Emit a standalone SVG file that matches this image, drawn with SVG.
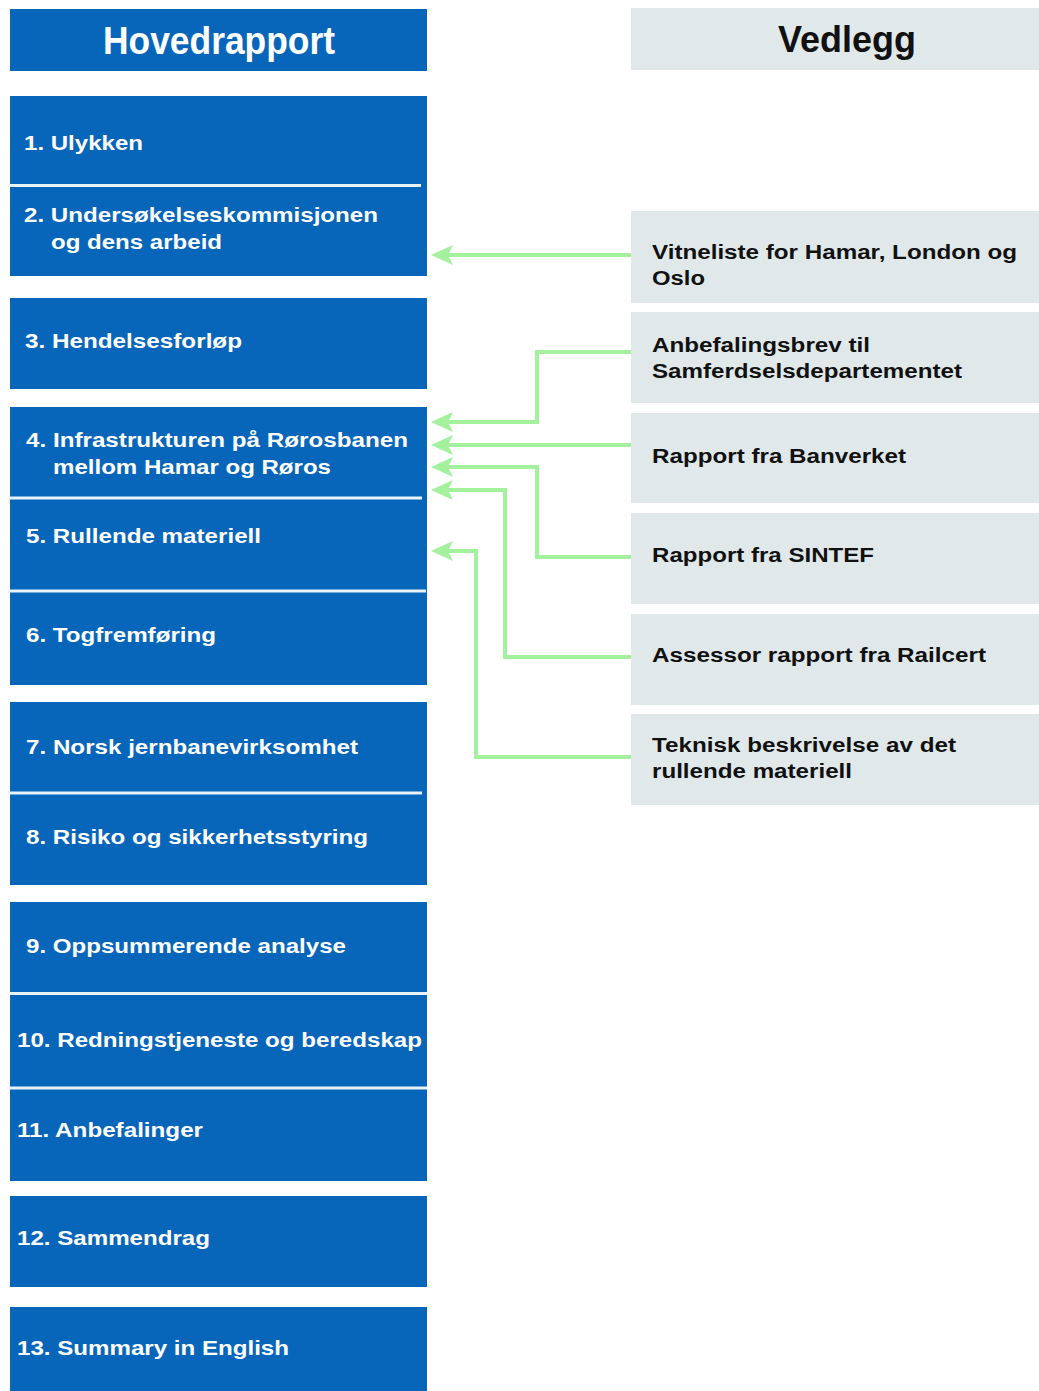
<svg xmlns="http://www.w3.org/2000/svg" width="1039" height="1391" viewBox="0 0 1039 1391">
<style>
.blue{fill:#0766ba}
.gray{fill:#e0e8ea}
.wt{fill:#ffffff;font-family:"Liberation Sans",Arial,sans-serif;font-weight:bold;font-size:20px}
.bt{fill:#111111;font-family:"Liberation Sans",Arial,sans-serif;font-weight:bold;font-size:20px}
.sep{stroke:#e8f3fb;stroke-width:3}
.conn{fill:none;stroke:#a3f09d;stroke-width:4}
</style>
<defs>
<marker id="ah" markerUnits="userSpaceOnUse" viewBox="0 -10 22 20" markerWidth="22" markerHeight="20" refX="8" refY="0" orient="auto" overflow="visible">
<path d="M22,0 L0,-10 L5,0 L0,10 Z" fill="#a3f09d"/>
</marker>
</defs>
<rect width="1039" height="1391" fill="#ffffff"/>

<g id="hovedrapport">
<rect class="blue" x="10" y="9" width="417" height="62"/>
<text x="219" y="54" text-anchor="middle" font-family="Liberation Sans,Arial,sans-serif" font-weight="bold" font-size="38" fill="#ffffff" textLength="232" lengthAdjust="spacingAndGlyphs">Hovedrapport</text>
</g>

<g id="h1"><rect class="blue" x="10" y="96" width="417" height="89"/>
<text class="wt" x="24" y="150" textLength="119" lengthAdjust="spacingAndGlyphs">1. Ulykken</text></g>
<g id="h2"><rect class="blue" x="10" y="185" width="417" height="91"/>
<line class="sep" x1="8" y1="185.5" x2="421" y2="185.5"/>
<text class="wt" x="24" y="222" textLength="354" lengthAdjust="spacingAndGlyphs">2. Undersøkelseskommisjonen</text>
<text class="wt" x="51" y="249" textLength="171" lengthAdjust="spacingAndGlyphs">og dens arbeid</text></g>
<g id="h3"><rect class="blue" x="10" y="298" width="417" height="91"/>
<text class="wt" x="25" y="348" textLength="217" lengthAdjust="spacingAndGlyphs">3. Hendelsesforløp</text></g>
<g id="h4"><rect class="blue" x="10" y="407" width="417" height="90"/>
<text class="wt" x="26" y="447" textLength="382" lengthAdjust="spacingAndGlyphs">4. Infrastrukturen på Rørosbanen</text>
<text class="wt" x="53" y="474" textLength="278" lengthAdjust="spacingAndGlyphs">mellom Hamar og Røros</text></g>
<g id="h5"><rect class="blue" x="10" y="497" width="417" height="94"/>
<line class="sep" x1="8" y1="498" x2="422" y2="498"/>
<text class="wt" x="26" y="543" textLength="235" lengthAdjust="spacingAndGlyphs">5. Rullende materiell</text></g>
<g id="h6"><rect class="blue" x="10" y="591" width="417" height="94"/>
<line class="sep" x1="8" y1="591" x2="426" y2="591"/>
<text class="wt" x="26" y="642" textLength="190" lengthAdjust="spacingAndGlyphs">6. Togfremføring</text></g>
<g id="h7"><rect class="blue" x="10" y="702" width="417" height="90"/>
<text class="wt" x="26" y="754" textLength="332" lengthAdjust="spacingAndGlyphs">7. Norsk jernbanevirksomhet</text></g>
<g id="h8"><rect class="blue" x="10" y="792" width="417" height="93"/>
<line class="sep" x1="8" y1="793" x2="422" y2="793"/>
<text class="wt" x="26" y="844" textLength="342" lengthAdjust="spacingAndGlyphs">8. Risiko og sikkerhetsstyring</text></g>
<g id="h9"><rect class="blue" x="10" y="902" width="417" height="90"/>
<text class="wt" x="26" y="953" textLength="320" lengthAdjust="spacingAndGlyphs">9. Oppsummerende analyse</text></g>
<g id="h10"><rect class="blue" x="10" y="992" width="417" height="95"/>
<line class="sep" x1="10" y1="993.5" x2="427" y2="993.5"/>
<text class="wt" x="17" y="1047" textLength="405" lengthAdjust="spacingAndGlyphs">10. Redningstjeneste og beredskap</text></g>
<g id="h11"><rect class="blue" x="10" y="1087" width="417" height="94"/>
<line class="sep" x1="10" y1="1088" x2="427" y2="1088"/>
<text class="wt" x="17" y="1137" textLength="186" lengthAdjust="spacingAndGlyphs">11. Anbefalinger</text></g>
<g id="h12"><rect class="blue" x="10" y="1196" width="417" height="91"/>
<text class="wt" x="17" y="1245" textLength="193" lengthAdjust="spacingAndGlyphs">12. Sammendrag</text></g>
<g id="h13"><rect class="blue" x="10" y="1307" width="417" height="84"/>
<text class="wt" x="17" y="1355" textLength="272" lengthAdjust="spacingAndGlyphs">13. Summary in English</text></g>

<g id="vedlegg">
<rect class="gray" x="631" y="8" width="408" height="62"/>
<text x="847" y="52" text-anchor="middle" font-family="Liberation Sans,Arial,sans-serif" font-weight="bold" font-size="37" fill="#111111" textLength="138" lengthAdjust="spacingAndGlyphs">Vedlegg</text>
</g>

<g id="v1"><rect class="gray" x="631" y="211" width="408" height="92"/>
<text class="bt" x="652" y="259" textLength="365" lengthAdjust="spacingAndGlyphs">Vitneliste for Hamar, London og</text>
<text class="bt" x="652" y="285" textLength="53" lengthAdjust="spacingAndGlyphs">Oslo</text></g>
<g id="v2"><rect class="gray" x="631" y="312" width="408" height="91"/>
<text class="bt" x="652" y="352" textLength="218" lengthAdjust="spacingAndGlyphs">Anbefalingsbrev til</text>
<text class="bt" x="652" y="378" textLength="310" lengthAdjust="spacingAndGlyphs">Samferdselsdepartementet</text></g>
<g id="v3"><rect class="gray" x="631" y="413" width="408" height="90"/>
<text class="bt" x="652" y="463" textLength="254" lengthAdjust="spacingAndGlyphs">Rapport fra Banverket</text></g>
<g id="v4"><rect class="gray" x="631" y="513" width="408" height="91"/>
<text class="bt" x="652" y="562" textLength="222" lengthAdjust="spacingAndGlyphs">Rapport fra SINTEF</text></g>
<g id="v5"><rect class="gray" x="631" y="614" width="408" height="91"/>
<text class="bt" x="652" y="662" textLength="334" lengthAdjust="spacingAndGlyphs">Assessor rapport fra Railcert</text></g>
<g id="v6"><rect class="gray" x="631" y="714" width="408" height="91"/>
<text class="bt" x="652" y="752" textLength="304" lengthAdjust="spacingAndGlyphs">Teknisk beskrivelse av det</text>
<text class="bt" x="652" y="778" textLength="200" lengthAdjust="spacingAndGlyphs">rullende materiell</text></g>

<g id="connectors">
<polyline class="conn" points="631,255 445,255" marker-end="url(#ah)"/>
<polyline class="conn" points="631,352 537,352 537,422 445,422" marker-end="url(#ah)"/>
<polyline class="conn" points="631,445 445,445" marker-end="url(#ah)"/>
<polyline class="conn" points="631,557 537,557 537,467 445,467" marker-end="url(#ah)"/>
<polyline class="conn" points="631,657 505,657 505,490 445,490" marker-end="url(#ah)"/>
<polyline class="conn" points="631,757 476,757 476,551 445,551" marker-end="url(#ah)"/>
</g>
</svg>
